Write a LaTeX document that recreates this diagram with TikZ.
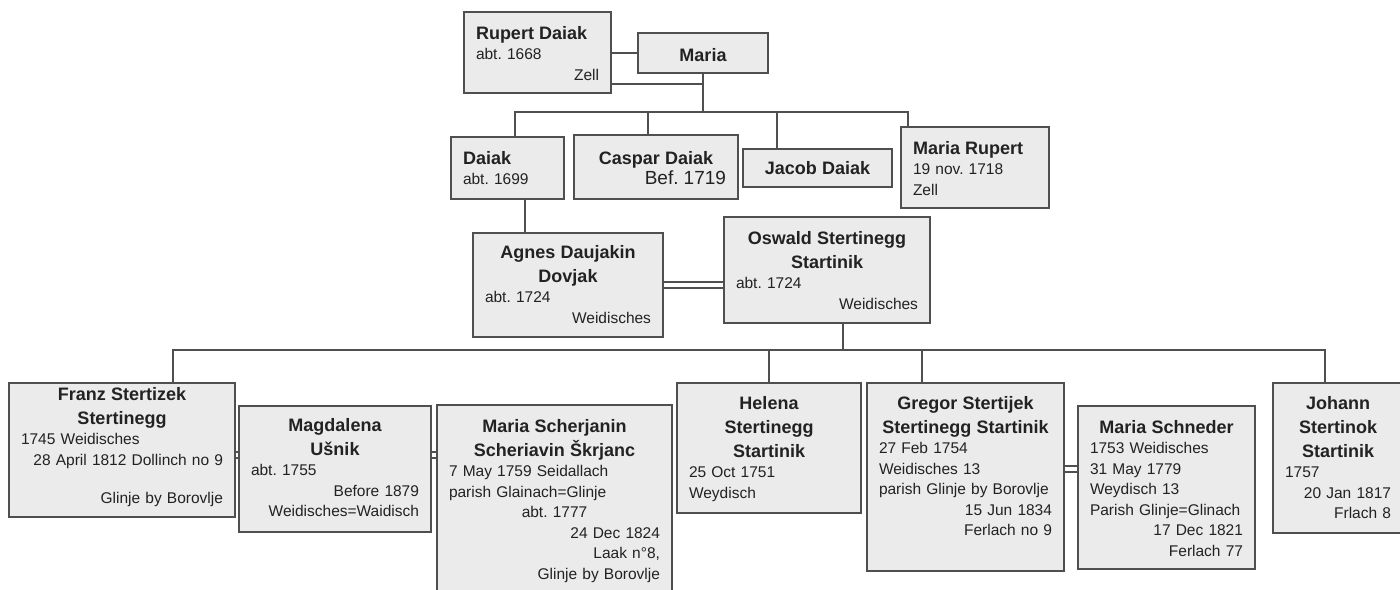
\documentclass[tikz,border=0pt]{standalone}
\usepackage{fontspec}
\setmainfont{Liberation Sans}
\usetikzlibrary{calc}
\definecolor{BoxFill}{HTML}{EBEBEB}
\definecolor{Edge}{HTML}{4F4F4F}
\definecolor{Ink}{HTML}{222222}
\newcommand{\namefont}{\fontsize{18}{24}\selectfont\bfseries}
\frenchspacing

\begin{document}
\begin{tikzpicture}[
  x=1pt, y=-1pt,
  person/.style={draw=Edge,line width=2pt,fill=BoxFill,anchor=north west,inner xsep=12pt,inner ysep=0pt,text=Ink,font=\fontsize{15.5}{20.5}\selectfont},
  link/.style={draw=Edge,line width=2pt},
  couple/.style={draw=Edge,line width=1.6pt,double=white,double distance=4pt}
]
\useasboundingbox (0,0) rectangle (1400,589);
\clip (0,0) rectangle (1400,589);
\fill[white] (0,0) rectangle (1400,589);
% generation 1
\node[person,text width=123pt,text height=27pt,text depth=54pt] (rupert) at (463,11) {{\namefont Rupert Daiak\par}abt. 1668\\\hspace*{\fill}Zell};
\node[person,text width=106pt,text height=28pt,text depth=12pt] (maria) at (637,32) {{\centering\namefont Maria\par}};
% generation 2
\node[person,text width=89pt,text height=27pt,text depth=35pt] (daiak) at (450,136) {{\namefont Daiak\par}abt. 1699};
\node[person,text width=140pt,text height=29pt,text depth=35pt] (caspar) at (573,134) {{\centering\namefont Caspar Daiak\par}\hspace*{\fill}{\fontsize{19}{20.5}\selectfont Bef. 1719}};
\node[person,text width=125pt,text height=25pt,text depth=13pt] (jacob) at (742,148) {{\centering\namefont Jacob Daiak\par}};
\node[person,text width=124pt,text height=27pt,text depth=54pt] (mariar) at (900,126) {{\namefont Maria Rupert\par}19 nov. 1718\\Zell};
% generation 3
\node[person,text width=166pt,text height=25pt,text depth=79pt] (agnes) at (472,232) {{\centering\namefont Agnes Daujakin\\Dovjak\par}abt. 1724\\\hspace*{\fill}Weidisches};
\node[person,text width=182pt,text height=27pt,text depth=79pt] (oswald) at (723,216) {{\centering\namefont Oswald Stertinegg\\Startinik\par}abt. 1724\\\hspace*{\fill}Weidisches};
% generation 4
\node[person,text width=202pt,text height=17pt,text depth=117pt] (franz) at (8,382) {{\centering\namefont Franz Stertizek\\Stertinegg\par}1745 Weidisches\\\hspace*{\fill}28 April 1812 Dollinch no 9\\[18pt]\hspace*{\fill}Glinje by Borovlje};
\node[person,text width=168pt,text height=25pt,text depth=101pt] (magda) at (238,405) {{\centering\namefont Magdalena\\Ušnik\par}abt. 1755\\\hspace*{\fill}Before 1879\\\hspace*{\fill}Weidisches=Waidisch};
\node[person,text width=211pt,text height=27pt,text depth=173pt] (mariasch) at (436,404) {{\centering\namefont Maria Scherjanin\\Scheriavin Škrjanc\par}7 May 1759 Seidallach\\parish Glainach=Glinje\\\hspace*{\fill}abt. 1777\hfill\null\\\hspace*{\fill}24 Dec 1824\\\hspace*{\fill}Laak n°8,\\\hspace*{\fill}Glinje by Borovlje};
\node[person,text width=160pt,text height=26pt,text depth=104pt] (helena) at (676,382) {{\centering\namefont Helena\\Stertinegg\\Startinik\par}25 Oct 1751\\Weydisch};
\node[person,text width=173pt,text height=26pt,text depth=162pt] (gregor) at (866,382) {{\centering\namefont Gregor Stertijek\\Stertinegg Startinik\par}27 Feb 1754\\Weidisches 13\\parish Glinje by Borovlje\\\hspace*{\fill}15 Jun 1834\\\hspace*{\fill}Ferlach no 9};
\node[person,text width=153pt,text height=27pt,text depth=136pt] (schneder) at (1077,405) {{\centering\namefont Maria Schneder\par}1753 Weidisches\\31 May 1779\\Weydisch 13\\Parish Glinje=Glinach\\\hspace*{\fill}17 Dec 1821\\\hspace*{\fill}Ferlach 77};
\node[person,text width=106pt,text height=26pt,text depth=124pt] (johann) at (1272,382) {{\centering\namefont Johann\\Stertinok\\Startinik\par}1757\\\hspace*{\fill}20 Jan 1817\\\hspace*{\fill}Frlach 8};
% family lines
\coordinate (fam1) at ($(maria.south)+(0,38)$);
\draw[link] (maria.west -| rupert.east) -- (maria.west);
\draw[link] ($(rupert.south east)+(0,-10)$) -| (maria.south);
\draw[link] (maria.south) -- (fam1);
\draw[link] ($(daiak.north west)+(65,0)$) |- (fam1);
\draw[link] ($(caspar.north west)+(75,0)$) |- (fam1);
\draw[link] ($(jacob.north west)+(35,0)$) |- (fam1);
\draw[link] ($(mariar.north west)+(8,0)$) |- (fam1);
\draw[link] ($(daiak.south west)+(75,0)$) -- ($(agnes.north west)+(53,0)$);
\draw[couple] (agnes.east) -- (agnes.east -| oswald.west);
\coordinate (fam2) at ($(oswald.south west)+(120,26)$);
\draw[link] ($(oswald.south west)+(120,0)$) -- (fam2);
\draw[link] ($(franz.north west)+(165,0)$) |- (fam2);
\draw[link] ($(helena.north west)+(93,0)$) |- (fam2);
\draw[link] ($(gregor.north west)+(56,0)$) |- (fam2);
\draw[link] ($(johann.north west)+(53,0)$) |- (fam2);
\draw[couple] ($(franz.north east)+(0,73)$) coordinate (fm) -- (fm -| magda.west);
\draw[couple] ($(magda.north east)+(0,50)$) coordinate (mm) -- (mm -| mariasch.west);
\draw[couple] ($(gregor.north east)+(0,87)$) coordinate (gs) -- (gs -| schneder.west);
\end{tikzpicture}
\end{document}
